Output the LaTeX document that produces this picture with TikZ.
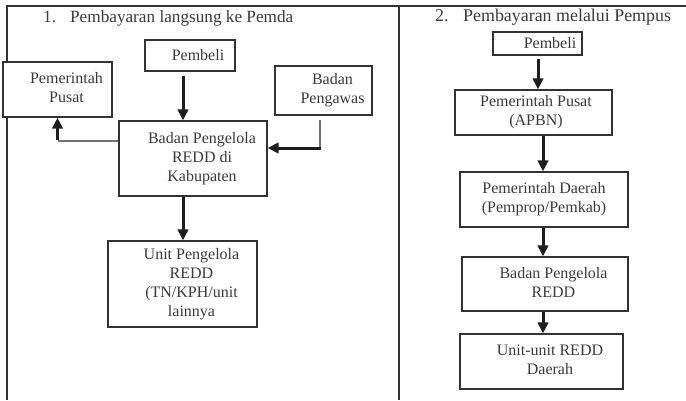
\documentclass[tikz,border=0pt]{standalone}
\usepackage{fontspec}
\setmainfont{Liberation Serif}
\usetikzlibrary{arrows.meta,calc}
\definecolor{linec}{HTML}{333333}
\definecolor{textc}{HTML}{3A3A3A}
\definecolor{arrc}{HTML}{1E1E1E}
\definecolor{elbowc}{HTML}{727272}
\tikzset{
  frame/.style={draw=linec, line width=1.3pt},
  box/.style={draw=linec, line width=1.3pt, fill=white, inner sep=0pt,
    align=center, text=textc, font=\fontsize{16}{19}\selectfont},
  ttl/.style={anchor=base west, inner sep=0pt, text=textc},
  arr/.style={draw=arrc, line width=3pt,
    -{Triangle[length=11pt,width=10.5pt]}},
  elbow/.style={draw=elbowc, line width=2.4pt},
}
\begin{document}
\begin{tikzpicture}[x=1pt,y=-1pt]
\useasboundingbox (0,0) rectangle (686,400);
% outer frame and the divider between the two schemes
\draw[frame] (7,400) -- (7,6) -- (686,6);
\draw[frame] (399,6) -- (399,400);

% ---- scheme 1: direct payment to the regional government ----
\node[ttl, font=\fontsize{17.2}{20}\selectfont] (t1) at (43,22.5)
  {\makebox[27pt][l]{1.}Pembayaran langsung ke Pemda};
\node[box, minimum width=90pt, minimum height=31pt] (lb1) at (190,55.5)
  {\hspace*{16pt}Pembeli};
\node[box, minimum width=109pt, minimum height=55pt] (lpp) at (57.5,89.5)
  {\hspace*{18pt}\begin{tabular}{@{}c@{}}Pemerintah\\Pusat\end{tabular}};
\node[box, minimum width=97pt, minimum height=49pt] (lbp) at (323.5,90.5)
  {\hspace*{18pt}\begin{tabular}{@{}c@{}}Badan\\Pengawas\end{tabular}};
\node[box, minimum width=148pt, minimum height=75pt] (lbk) at (193,158.5)
  {\hspace*{18pt}\begin{tabular}{@{}c@{}}Badan Pengelola\\REDD di\\Kabupaten\end{tabular}};
\node[box, minimum width=149pt, minimum height=86pt] (lu) at (182.5,284)
  {\hspace*{18pt}\begin{tabular}{@{}c@{}}Unit Pengelola\\REDD\\(TN/KPH/unit\\lainnya\end{tabular}};

% buyer pays the managing body
\coordinate (a1) at ([xshift=-7pt,yshift=-4pt]lb1.south);
\draw[arr] (a1) -- (a1 |- lbk.north);
% managing body passes a share to the central government
\coordinate (k1) at ([yshift=17.5pt]lbk.west);
\coordinate (e1) at (lpp.south |- k1);
\draw[elbow] (k1) -- (e1);
\draw[arr] ([yshift=1.2pt]e1) -- (lpp.south);
% supervisory body oversees the managing body
\coordinate (k2) at ([xshift=-3.5pt,yshift=-4pt]lbp.south);
\coordinate (m2) at ([yshift=10.5pt]lbk.east);
\coordinate (e2) at (k2 |- m2);
\draw[elbow] (k2) -- (e2);
\draw[arr] ([xshift=1.2pt]e2) -- (m2);
% managing body funds the management units
\coordinate (a3) at ([xshift=-10pt]lbk.south);
\draw[arr] (a3) -- (a3 |- lu.north);

% ---- scheme 2: payment through the central government ----
\node[ttl, font=\fontsize{17.9}{21}\selectfont] (t2) at (435,21)
  {\makebox[28pt][l]{2.}Pembayaran melalui Pempus};
\node[box, minimum width=89pt, minimum height=23pt] (rb1) at (537.5,43.5)
  {\hspace*{25pt}Pembeli};
\node[box, minimum width=157pt, minimum height=45pt] (rpp) at (533.5,112.5)
  {\hspace*{5pt}\begin{tabular}{@{}c@{}}Pemerintah Pusat\\(APBN)\end{tabular}};
\node[box, minimum width=168pt, minimum height=55pt] (rpd) at (544,199.5)
  {\begin{tabular}{@{}c@{}}Pemerintah Daerah\\(Pemprop/Pemkab)\end{tabular}};
\node[box, minimum width=166pt, minimum height=54pt] (rbr) at (545,284)
  {\hspace*{17pt}\begin{tabular}{@{}c@{}}Badan Pengelola\\REDD\end{tabular}};
\node[box, minimum width=163pt, minimum height=55pt] (ru) at (541.5,361.5)
  {\hspace*{17pt}\begin{tabular}{@{}c@{}}Unit-unit REDD\\Daerah\end{tabular}};

\coordinate (b1) at ([xshift=0.5pt,yshift=-3pt]rb1.south);
\draw[arr] (b1) -- (b1 |- rpp.north);
\coordinate (b2) at ([xshift=9.5pt]rpp.south);
\draw[arr] (b2) -- (b2 |- rpd.north);
\coordinate (b3) at ([xshift=-1pt]rpd.south);
\draw[arr] (b3) -- (b3 |- rbr.north);
\coordinate (b4) at ([xshift=-2pt]rbr.south);
\draw[arr] (b4) -- (b4 |- ru.north);
\end{tikzpicture}
\end{document}
